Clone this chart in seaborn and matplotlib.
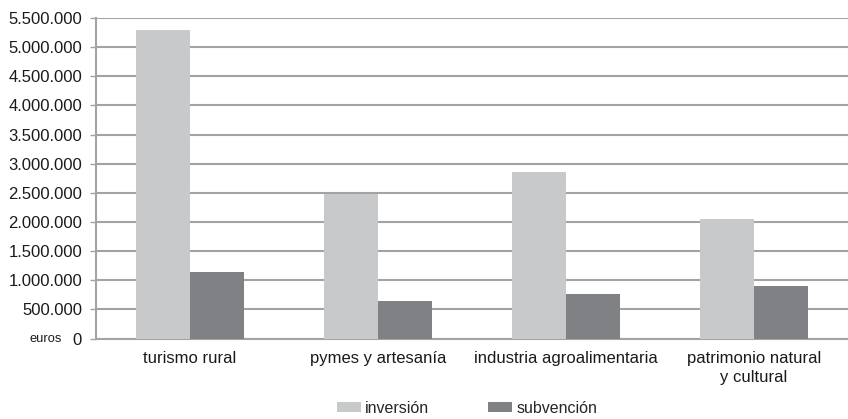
import matplotlib
matplotlib.use("Agg")
import matplotlib.pyplot as plt
import seaborn as sns
import pandas as pd
from matplotlib.ticker import FuncFormatter, MultipleLocator

categories = ["turismo rural", "pymes y artesanía",
              "industria agroalimentaria", "patrimonio natural\ny cultural"]
inversion  = [5290000, 2480000, 2855000, 2045000]
subvencion = [1140000,  645000,  762000,  905000]
series     = ["inversión", "subvención"]

df = pd.DataFrame({
    "categoria": categories * 2,
    "valor": inversion + subvencion,
    "serie": [series[0]] * 4 + [series[1]] * 4,
})

sns.set_style("white")
plt.rcParams["font.family"] = ["Liberation Sans", "DejaVu Sans"]

fig = plt.figure(figsize=(8.48, 4.19), dpi=100)
ax = fig.add_axes([0.1132, 0.192, 0.8868, 0.765])

grid_c = "#a3a3a3"
sns.barplot(data=df, x="categoria", y="valor", hue="serie", ax=ax,
            palette=["#c8c9cb", "#808184"], width=0.575, saturation=1,
            linewidth=0, zorder=3)

ax.set_ylim(0, 5500000)
ax.set_xlim(-0.5, 3.5)
ax.yaxis.set_major_locator(MultipleLocator(500000))
ax.yaxis.set_major_formatter(FuncFormatter(lambda v, p: f"{int(v):,}".replace(",", ".")))
ax.grid(axis="y", color=grid_c, linewidth=1.5, zorder=0)
ax.set_axisbelow(True)

for s in ["top", "right"]:
    ax.spines[s].set_visible(False)
for s in ["left", "bottom"]:
    ax.spines[s].set_color(grid_c)
    ax.spines[s].set_linewidth(1.5)

# ticks between categories on x, short outward ticks on y
ax.set_xticks([0, 1, 2, 3])
ax.set_xticklabels(categories, fontsize=12, color="#1a1a1a", linespacing=1.35)
ax.set_xticks([0.5, 1.5, 2.5], minor=True)
ax.tick_params(axis="x", which="major", length=0, pad=9)
ax.tick_params(axis="x", which="minor", length=4, width=1, color=grid_c, direction="out")
ax.tick_params(axis="y", length=4, width=1, color=grid_c, labelsize=12,
               labelcolor="#1a1a1a", pad=6, left=True)

ax.set_xlabel("")
ax.set_ylabel("")
fig.text(0.035, 0.19, "euros", fontsize=9.3, color="#1a1a1a", va="center")

ax.legend(loc="center", bbox_to_anchor=(0.551, 0.026),
          bbox_transform=fig.transFigure, ncol=2,
          frameon=False, fontsize=11.5, handlelength=1.5, handleheight=0.55,
          handletextpad=0.25, columnspacing=3.7, borderaxespad=0,
          borderpad=0)

fig.savefig("out.png", dpi=100)
